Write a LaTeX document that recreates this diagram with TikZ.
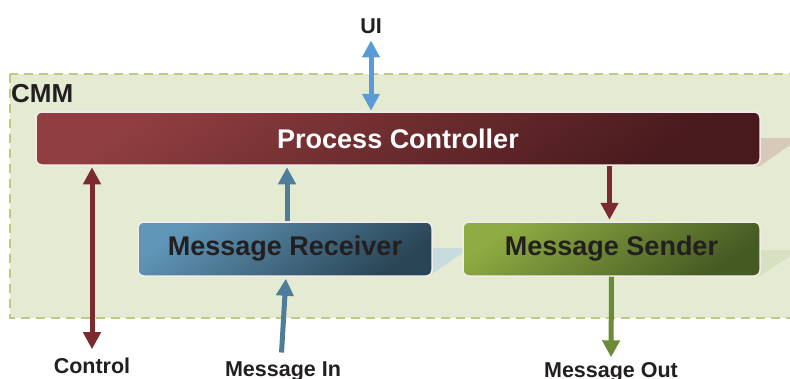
\documentclass[tikz,border=0pt]{standalone}
\usepackage{fontspec}
\setmainfont{Liberation Sans}
\usetikzlibrary{arrows.meta,calc}

\definecolor{cmmfill}{HTML}{E4EBD2}
\definecolor{cmmdash}{HTML}{BCCB84}
\definecolor{txtdark}{HTML}{231F20}
\definecolor{boxrim}{HTML}{F4ECEA}
\definecolor{pcA}{HTML}{903E40}
\definecolor{pcB}{HTML}{481A1D}
\definecolor{mrA}{HTML}{6096B8}
\definecolor{mrB}{HTML}{2A4555}
\definecolor{msA}{HTML}{8FAC42}
\definecolor{msB}{HTML}{455923}
\definecolor{uiblue}{HTML}{5B9BD5}
\definecolor{ctlred}{HTML}{7B2B2F}
\definecolor{inblue}{HTML}{4E7D99}
\definecolor{outgreen}{HTML}{6C8B37}
\definecolor{wedgePC}{HTML}{D8CAB9}
\definecolor{wedgeMR}{HTML}{C9DCDD}
\definecolor{wedgeMS}{HTML}{D7E1C2}

\begin{document}
\begin{tikzpicture}[x=1pt,y=-1pt,
  box/.style={rounded corners=6pt, draw=boxrim, line width=1.5pt,
    minimum height=54pt, inner sep=0pt, text=txtdark,
    font=\bfseries\fontsize{27}{27}\selectfont},
  pcshade/.style={top color=pcA, bottom color=pcB, shading angle=35},
  mrshade/.style={top color=mrA, bottom color=mrB, shading angle=35},
  msshade/.style={top color=msA, bottom color=msB, shading angle=35},
  lab/.style={anchor=base, inner sep=0pt, text=txtdark,
    font=\bfseries\fontsize{21.5}{21.5}\selectfont},
  conn/.style={line width=5pt, -{Triangle[width=17pt,length=17pt]}},
  biconn/.style={line width=5pt, {Triangle[width=17pt,length=17pt]}-{Triangle[width=17pt,length=17pt]}}]

\useasboundingbox (0,0) rectangle (790,378);
\clip (0,0) rectangle (790,378);

% CMM container
\draw[fill=cmmfill, draw=cmmdash, line width=2.5pt, dash pattern=on 9pt off 6pt]
  (10,74) rectangle (805,318);
\node[anchor=base west, inner sep=0pt, text=txtdark,
  font=\bfseries\fontsize{26}{26}\selectfont] (cmm) at (11,102) {CMM};

% faint ramps behind the boxes
\fill[wedgePC] (755,138) -- (790,138) -- (790,145) -- (760,166) -- (755,166) -- cycle;
\fill[wedgeMR] (428,248) -- (464,248) -- (464,252) -- (432,274) -- (428,274) -- cycle;
\fill[wedgeMS] (755,250) -- (790,250) -- (790,256) -- (760,276) -- (755,276) -- cycle;

% components
\node[box, pcshade, minimum width=724pt, minimum height=53pt, text=white]
  (pc) at (398,138.5) {Process Controller};
\node[box, mrshade, minimum width=294pt] (mr) at (285,249) {Message Receiver};
\node[box, msshade, minimum width=297pt] (ms) at (611.5,249) {Message Sender};

% external labels
\node[lab] (ui) at (371,33) {UI};
\node[lab] (ctl) at (92,373) {Control};
\node[lab] (min) at (283,376.5) {Message In};
\node[lab] (mout) at (611,377.5) {Message Out};

% attachment points on the box edges
\coordinate (mrtop) at ([xshift=2pt]mr.north);
\coordinate (mrbot) at ([xshift=1pt]mr.south);
\coordinate (mstop) at ([xshift=-2pt]ms.north);
\coordinate (minsrc) at ([xshift=-2pt]min.north);

% connectors
\draw[biconn, uiblue, shorten <=7pt, shorten >=0.5pt] (ui.south) -- (pc.north -| ui.south);
\draw[biconn, ctlred, shorten <=1.5pt, shorten >=8pt] (pc.south -| ctl.north) -- (ctl.north);
\draw[conn, inblue, shorten >=1.5pt] (mrtop) -- (pc.south -| mrtop);
\draw[conn, ctlred, shorten >=1.5pt] (pc.south -| mstop) -- (mstop);
\draw[conn, inblue, shorten <=9pt, shorten >=2pt] (minsrc) -- (mrbot);
\draw[conn, outgreen, shorten >=5pt] (ms.south) -- (mout.north);

\end{tikzpicture}
\end{document}
